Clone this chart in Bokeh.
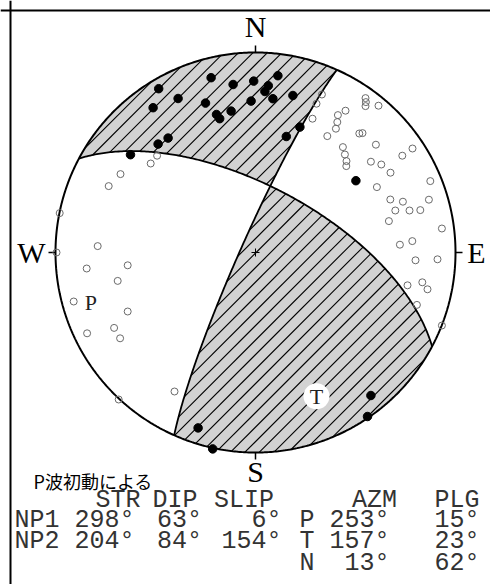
import numpy as np
from bokeh.plotting import figure
from bokeh.models import Range1d, Span
from bokeh.core.properties import value
from bokeh.embed import file_html
from bokeh.resources import INLINE

# ---------------- data ----------------
plane_names = ["NP1", "NP2"]
strike = [298, 204]
dip = [63, 84]
slip = [6, 154]

axis_names = ["P", "T", "N"]
axis_azm = [253, 157, 13]
axis_plg = [15, 23, 62]

# first-motion polarities, projected (east, north) on the unit net
up_x = [-0.484, -0.222, -0.112, -0.009, 0.112, 0.064, 0.047, -0.387, -0.512, -0.250,
        -0.022, 0.087, 0.187, -0.195, -0.179, -0.122, -0.437, -0.487, -0.625, 0.222,
        0.154, 0.502, -0.287, -0.214, 0.577, 0.560]
up_y = [0.819, 0.874, 0.840, 0.857, 0.884, 0.834, 0.805, 0.770, 0.724, 0.747,
        0.757, 0.769, 0.785, 0.690, 0.669, 0.707, 0.572, 0.542, 0.489, 0.627,
        0.580, 0.359, -0.877, -0.982, -0.715, -0.820]

down_x = [-0.492, -0.524, -0.675, -0.734, -0.979, -0.995, -0.789, -0.844, -0.639, -0.689,
          -0.909, -0.639, -0.842, -0.707, -0.677, -0.405, -0.684,
          0.332, 0.305, 0.550, 0.552, 0.550, 0.615, 0.450, 0.412, 0.285, 0.409,
          0.402, 0.359, 0.519, 0.535, 0.602, 0.437, 0.447, 0.455, 0.454, 0.785,
          0.734, 0.577, 0.629, 0.675, 0.874, 0.607, 0.674, 0.737, 0.867, 0.699,
          0.770, 0.824, 0.667, 0.932, 0.722, 0.784, 0.800, 0.910, 0.760, 0.834,
          0.860, 0.807, 0.932]
down_y = [0.484, 0.445, 0.392, 0.332, 0.197, 0.000, 0.032, -0.080, -0.064, -0.142,
          -0.245, -0.295, -0.404, -0.377, -0.429, -0.695, -0.735,
          0.790, 0.744, 0.772, 0.752, 0.732, 0.734, 0.709, 0.687, 0.669, 0.652,
          0.619, 0.582, 0.595, 0.597, 0.539, 0.527, 0.490, 0.457, 0.432, 0.520,
          0.484, 0.454, 0.440, 0.399, 0.357, 0.327, 0.265, 0.254, 0.264, 0.210,
          0.210, 0.212, 0.157, 0.120, 0.039, 0.057, -0.039, -0.034, -0.164, -0.149,
          -0.184, -0.262, -0.365]

compass = ["N", "E", "S", "W"]
compass_az = [0, 90, 180, 270]

title_text = "P波初動による"
table_header = ["STR", "DIP", "SLIP", "AZM", "PLG"]

# ---------------- geometry (lower hemisphere, equal area) ----------------
def axis_vec(az, pl):
    a, q = np.radians(az), np.radians(pl)
    return np.array([np.cos(q) * np.cos(a), np.cos(q) * np.sin(a), np.sin(q)])

def project(v):
    v = np.atleast_2d(v)
    f = 1.0 / np.sqrt(1.0 + v[:, 2])
    return v[:, 1] * f, v[:, 0] * f

S_list, D_list = [], []
for s, d in zip(strike, dip):
    sr, dr = np.radians(s), np.radians(d)
    S_list.append(np.array([np.cos(sr), np.sin(sr), 0.0]))
    D_list.append(np.array([-np.cos(dr) * np.sin(sr), np.cos(dr) * np.cos(sr), np.sin(dr)]))
normals = [np.cross(S, D) for S, D in zip(S_list, D_list)]
null = np.cross(normals[0], normals[1])
null /= np.linalg.norm(null)
if null[2] < 0:
    null = -null
lamN = [np.arctan2(null @ D, null @ S) for S, D in zip(S_list, D_list)]

def arc(i, l0, l1, n=240):
    lam = np.linspace(l0, l1, n)[:, None]
    return project(np.cos(lam) * S_list[i] + np.sin(lam) * D_list[i])

ends = []
for i, s in enumerate(strike):
    ends.append((s % 360, i, 0.0))
    ends.append(((s + 180) % 360, i, np.pi))
ends.sort()

tvec = axis_vec(axis_azm[1], axis_plg[1])
pvec = axis_vec(axis_azm[0], axis_plg[0])
shade_xs, shade_ys = [], []
for k in range(4):
    a0, i0, l0 = ends[k]
    a1, i1, l1 = ends[(k + 1) % 4]
    if a1 <= a0:
        a1 += 360
    mid = np.radians((a0 + a1) / 2)
    h = np.array([np.cos(mid), np.sin(mid), 0.0])
    if (h @ tvec) ** 2 - (h @ pvec) ** 2 <= 0:
        continue
    az = np.radians(np.linspace(a0, a1, 240))
    x0, y0 = arc(i0, lamN[i0], l0)
    x1, y1 = arc(i1, lamN[i1], l1)
    shade_xs.append(np.concatenate([x0, np.sin(az), x1[::-1]]))
    shade_ys.append(np.concatenate([y0, np.cos(az), y1[::-1]]))

# hatch lines "/" clipped to the shaded quadrants
SC = 200.0                  # pixels per unit radius
H_SP = 14.5 / SC            # horizontal spacing of hatch lines
H_OFF = (246.6 - 507) / SC  # phase of hatch lines

def hatch_segments(xs, ys):
    x1, y1 = xs, ys
    x2, y2 = np.roll(xs, -1), np.roll(ys, -1)
    d1, d2 = x1 - y1, x2 - y2
    k0 = int(np.ceil((min(d1.min(), d2.min()) - H_OFF) / H_SP))
    k1 = int(np.floor((max(d1.max(), d2.max()) - H_OFF) / H_SP))
    sx, sy = [], []
    for k in range(k0, k1 + 1):
        c = H_OFF + k * H_SP
        f1, f2 = d1 - c, d2 - c
        m = (f1 > 0) != (f2 > 0)
        if not m.any():
            continue
        t = f1[m] / (f1[m] - f2[m])
        ix = x1[m] + t * (x2[m] - x1[m])
        iy = y1[m] + t * (y2[m] - y1[m])
        ss = np.sort(ix + iy)
        for a, b in zip(ss[0::2], ss[1::2]):
            sx.append([(a + c) / 2, (b + c) / 2])
            sy.append([(a - c) / 2, (b - c) / 2])
    return sx, sy

hx, hy = [], []
for xs, ys in zip(shade_xs, shade_ys):
    a, b = hatch_segments(xs, ys)
    hx += a
    hy += b

# ---------------- figure ----------------
W, H = 490, 584
CX, CY = 255, 252    # net centre in page pixels
p = figure(width=W, height=H,
           x_range=Range1d(-CX / SC, (W - CX) / SC),
           y_range=Range1d(-(H - CY) / SC, CY / SC),
           output_backend="svg", toolbar_location=None, min_border=0,
           x_axis_location=None, y_axis_location=None)
p.grid.visible = False
p.outline_line_color = None
p.background_fill_color = "white"
p.border_fill_color = "white"

def px(xpix):   # page pixel -> data x
    return (xpix - CX) / SC

def py(ypix):   # page pixel -> data y
    return (CY - ypix) / SC

# frame (left and top edges visible)
p.add_layout(Span(location=px(10), dimension="height", line_color="black", line_width=2))
p.add_layout(Span(location=py(10), dimension="width", line_color="black", line_width=2))

# compressional quadrants
p.patches(shade_xs, shade_ys, fill_color="#d2d2d2", line_color=None)
p.multi_line(hx, hy, line_color="black", line_width=1.1)

# nodal planes
for i in range(len(strike)):
    x, y = arc(i, 0.0, np.pi)
    p.line(x, y, line_color="black", line_width=1.8)

# primitive circle
th = np.linspace(0, 2 * np.pi, 721)
p.line(np.sin(th), np.cos(th), line_color="black", line_width=2)

# compass ticks and centre mark
ca = np.radians(compass_az)
p.multi_line([[np.sin(a), np.sin(a) * 1.035] for a in ca],
             [[np.cos(a), np.cos(a) * 1.035] for a in ca],
             line_color="black", line_width=1.5)
p.scatter([0], [0], marker="cross", size=8, line_color="black", line_width=1)

# polarities
p.scatter(down_x, down_y, marker="circle", size=7, fill_color=None,
          line_color="#6a6a6a", line_width=1)
p.scatter(up_x, up_y, marker="circle", size=8.5, fill_color="black", line_color="black")

# P and T axes
tx, ty = project(axis_vec(axis_azm[1], axis_plg[1]))
pxa, pya = project(axis_vec(axis_azm[0], axis_plg[0]))
p.scatter(tx, ty, marker="circle", size=26, fill_color="white", line_color=None)
p.text(x=list(tx) + list(pxa), y=list(ty) + list(pya), text=["T", "P"],
       text_font=value("Liberation Serif"), text_font_size="22px",
       text_align="center", text_baseline="middle", text_color="#222222")

# compass labels
lab_r = [1.13, 1.105, 1.095, 1.12]
p.text(x=[np.sin(a) * r for a, r in zip(ca, lab_r)],
       y=[np.cos(a) * r for a, r in zip(ca, lab_r)],
       text=compass, text_font=value("Liberation Serif"), text_font_size="30px",
       text_align="center", text_baseline="middle", text_color="black")

# title
p.text(x=[px(33)], y=[py(480)], text=[title_text],
       text_font=value("Noto Sans CJK JP"), text_font_size="18px",
       text_baseline="middle", text_color="black")

# table (monospace grid)
FS = 25
CW = 0.6 * FS
X0 = 14
def col(c):
    return px(X0 + c * CW)

mono = dict(text_font=value("Liberation Mono"), text_font_size=f"{FS}px",
            text_baseline="middle", text_color="#333333")
row_y = [500, 520, 541, 563]

# header
p.text(x=[col(c) for c in [5.4, 9.2, 13.3, 22.5, 28]], y=[py(row_y[0])] * 5,
       text=table_header, text_align="left", **mono)

# nodal plane rows
for r, (nm, s, d, sl) in enumerate(zip(plane_names, strike, dip, slip)):
    y = py(row_y[r + 1])
    p.text(x=[col(0)], y=[y], text=[nm], text_align="left", **mono)
    p.text(x=[col(8), col(12.5), col(17.8)], y=[y] * 3,
           text=[f"{s}°", f"{d}°", f"{sl}°"], text_align="right", **mono)

# axis rows
for r, (nm, az, pl) in enumerate(zip(axis_names, axis_azm, axis_plg)):
    y = py(row_y[r + 1])
    p.text(x=[col(19)], y=[y], text=[nm], text_align="left", **mono)
    p.text(x=[col(25), col(31)], y=[y] * 2,
           text=[f"{az}°", f"{pl}°"], text_align="right", **mono)

open("out.html", "w").write(file_html(p, INLINE))
